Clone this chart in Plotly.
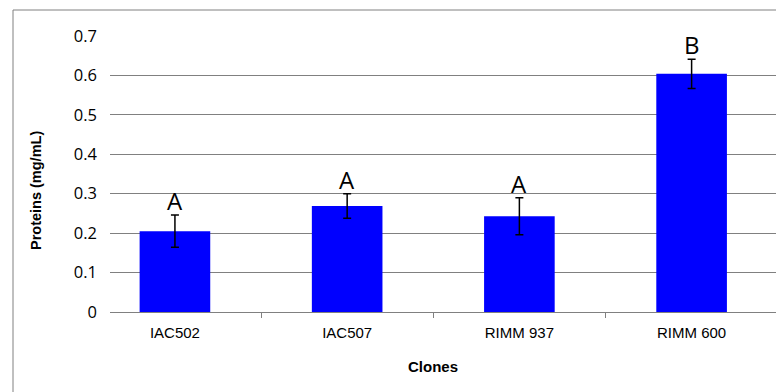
import plotly.graph_objects as go

# Protein content per clone, with standard deviation and significance group
clones = ["IAC502", "IAC507", "RIMM 937", "RIMM 600"]
proteins = [0.205, 0.269, 0.243, 0.604]
errors = [0.041, 0.031, 0.047, 0.037]
groups = ["A", "A", "A", "B"]
y_ticks = [0, 0.1, 0.2, 0.3, 0.4, 0.5, 0.6, 0.7]
y_tick_text = ["0", "0.1", "0.2", "0.3", "0.4", "0.5", "0.6", "0.7"]

W, H = 776, 392
L, R, T, B = 110, 0, 36, 80
pw, ph = W - L - R, H - T - B

fig = go.Figure()
fig.add_trace(go.Bar(
    x=clones,
    y=proteins,
    width=0.41,
    marker=dict(color="#0000FF", line=dict(width=0)),
    error_y=dict(type="data", array=errors, visible=True,
                 color="black", thickness=1.5, width=4),
    showlegend=False,
))

# Significance letters above each error bar
annotations = []
for c, v, e, g in zip(clones, proteins, errors, groups):
    annotations.append(dict(
        x=c, y=v + e, xref="x", yref="y", text=g, showarrow=False,
        yanchor="bottom", xanchor="center", yshift=-4,
        font=dict(family="Open Sans", size=24, color="black"),
    ))

# Axis titles
annotations.append(dict(
    x=(433 - L) / pw, y=-(366 - (T + ph)) / ph, xref="paper", yref="paper",
    text="<b>Clones</b>", showarrow=False, xanchor="center", yanchor="middle",
    font=dict(family="Liberation Sans", size=15, color="black"),
))
annotations.append(dict(
    x=(36 - L) / pw, y=1 - (191 - T) / ph, xref="paper", yref="paper",
    text="<b>Proteins (mg/mL)</b>", showarrow=False, textangle=-90,
    xanchor="center", yanchor="middle",
    font=dict(family="Liberation Sans", size=14.5, color="black"),
))

# Chart frame
frame = dict(
    type="rect", xref="paper", yref="paper",
    x0=(13 - L) / pw, x1=1.05,
    y0=-0.5, y1=1 + (T - 10) / ph,
    line=dict(color="#808080", width=1), fillcolor="rgba(0,0,0,0)",
    layer="below",
)

fig.update_layout(
    width=W, height=H,
    margin=dict(l=L, r=R, t=T, b=B, autoexpand=False),
    paper_bgcolor="white", plot_bgcolor="white",
    bargap=0.59,
    annotations=annotations,
    shapes=[frame],
    xaxis=dict(
        range=[-0.377, 3.49],
        showgrid=False, zeroline=False,
        showline=True, linecolor="#808080", linewidth=1,
        ticks="outside", tickson="boundaries", ticklen=5, tickcolor="#808080",
        ticklabelstandoff=7,
        tickfont=dict(family="Liberation Sans", size=15, color="black"),
    ),
    yaxis=dict(
        range=[0, 0.7],
        tickvals=y_ticks, ticktext=y_tick_text,
        showgrid=True, gridcolor="#808080", gridwidth=1,
        zeroline=False, showline=False,
        ticks="", ticklabelstandoff=12,
        tickfont=dict(family="Open Sans", size=16.5, color="black"),
    ),
)

fig.write_html("out.html")
